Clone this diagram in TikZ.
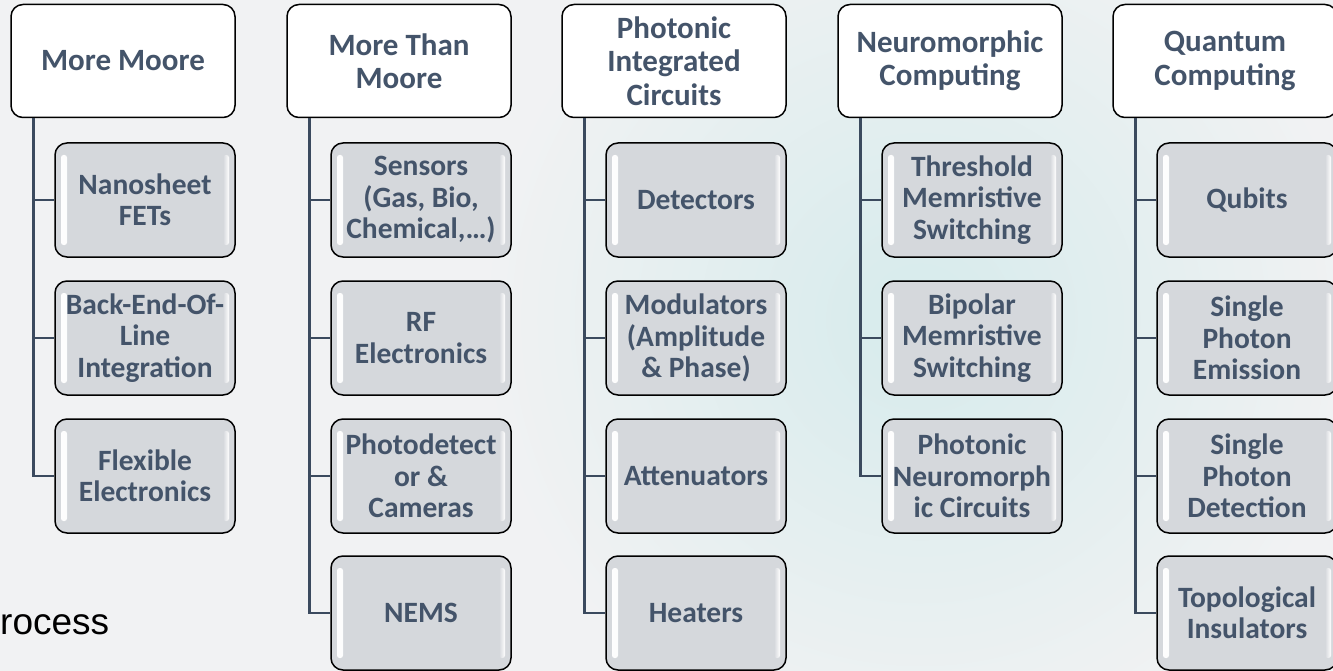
\documentclass[tikz,border=0pt]{standalone}
\usepackage{fontspec}
\setmainfont{Carlito}
\newfontfamily\arialfont{Liberation Sans}
\definecolor{slate}{HTML}{44546A}
\definecolor{linkcol}{HTML}{3B4A5E}
\definecolor{boxgray}{HTML}{D5D8DC}
\definecolor{bggray}{HTML}{F1F2F3}
\definecolor{bgteal}{HTML}{D6EBEC}

\begin{document}
\begin{tikzpicture}[x=1pt, y=-1pt,
    header/.style={draw=black, line width=1.5pt, fill=white, rounded corners=12pt,
        minimum width=224pt, minimum height=113pt, inner sep=0pt, align=center,
        font=\fontsize{31}{33.5}\selectfont\bfseries, text=slate},
    item/.style={draw=black, line width=1.5pt, fill=boxgray, rounded corners=12pt,
        minimum width=180pt, minimum height=114pt, inner sep=0pt, align=center,
        font=\fontsize{29.5}{31.5}\selectfont\bfseries, text=slate,
        path picture={
            \shade[left color=white, right color=boxgray, rounded corners=2.5pt]
                ([xshift=6pt,yshift=-12pt]path picture bounding box.north west) rectangle
                ([xshift=12pt,yshift=12pt]path picture bounding box.south west);
            \shade[left color=boxgray, right color=white, rounded corners=2.5pt]
                ([xshift=-12pt,yshift=-12pt]path picture bounding box.north east) rectangle
                ([xshift=-6pt,yshift=12pt]path picture bounding box.south east);
        }},
    link/.style={draw=linkcol, line width=2.5pt}]

    % Canvas
    \useasboundingbox (0,0) rectangle (1333,671);
    \clip (0,0) rectangle (1333,671);
    \fill[bggray] (0,0) rectangle (1333,671);
    \shade[inner color=bgteal, outer color=bggray] (920,320) circle (440pt);

    % Slide text behind the chart
    \node[anchor=base west, inner sep=0pt, font=\arialfont\fontsize{37}{40}\selectfont] (bgword) at (0,634) {rocess};

    % Headers
    \node[header] (mm)  at (123,61)  {More Moore};
    \node[header] (mtm) at (399,61)  {More Than\\Moore};
    \node[header] (pic) at (674,61)  {Photonic\\Integrated\\Circuits};
    \node[header] (neu) at (950,61)  {Neuromorphic\\Computing};
    \node[header] (qc)  at (1225,61) {Quantum\\Computing};

    % More Moore
    \node[item] (mm1) at (145,200) {Nanosheet\\FETs};
    \node[item] (mm2) at (145,338) {Back-End-Of-\\Line\\Integration};
    \node[item] (mm3) at (145,476) {Flexible\\Electronics};

    % More Than Moore
    \node[item] (mtm1) at (421,200) {Sensors\\(Gas, Bio,\\Chemical,…)};
    \node[item] (mtm2) at (421,338) {RF\\Electronics};
    \node[item] (mtm3) at (421,476) {Photodetect\\or \&\\Cameras};
    \node[item] (mtm4) at (421,613) {NEMS};

    % Photonic Integrated Circuits
    \node[item] (pic1) at (696,200) {Detectors};
    \node[item] (pic2) at (696,338) {Modulators\\(Amplitude\\\& Phase)};
    \node[item] (pic3) at (696,476) {Attenuators};
    \node[item] (pic4) at (696,613) {Heaters};

    % Neuromorphic Computing
    \node[item] (neu1) at (972,200) {Threshold\\Memristive\\Switching};
    \node[item] (neu2) at (972,338) {Bipolar\\Memristive\\Switching};
    \node[item] (neu3) at (972,476) {Photonic\\Neuromorph\\ic Circuits};

    % Quantum Computing
    \node[item] (qc1) at (1247,200) {Qubits};
    \node[item] (qc2) at (1247,338) {Single\\Photon\\Emission};
    \node[item] (qc3) at (1247,476) {Single\\Photon\\Detection};
    \node[item] (qc4) at (1247,613) {Topological\\Insulators};

    % Connectors
    \foreach \h/\c in {mm/mm1, mm/mm2, mm/mm3,
                       mtm/mtm1, mtm/mtm2, mtm/mtm3, mtm/mtm4,
                       pic/pic1, pic/pic2, pic/pic3, pic/pic4,
                       neu/neu1, neu/neu2, neu/neu3,
                       qc/qc1, qc/qc2, qc/qc3, qc/qc4}
        \draw[link] ([xshift=23pt]\h.south west) |- (\c.west);
\end{tikzpicture}
\end{document}
